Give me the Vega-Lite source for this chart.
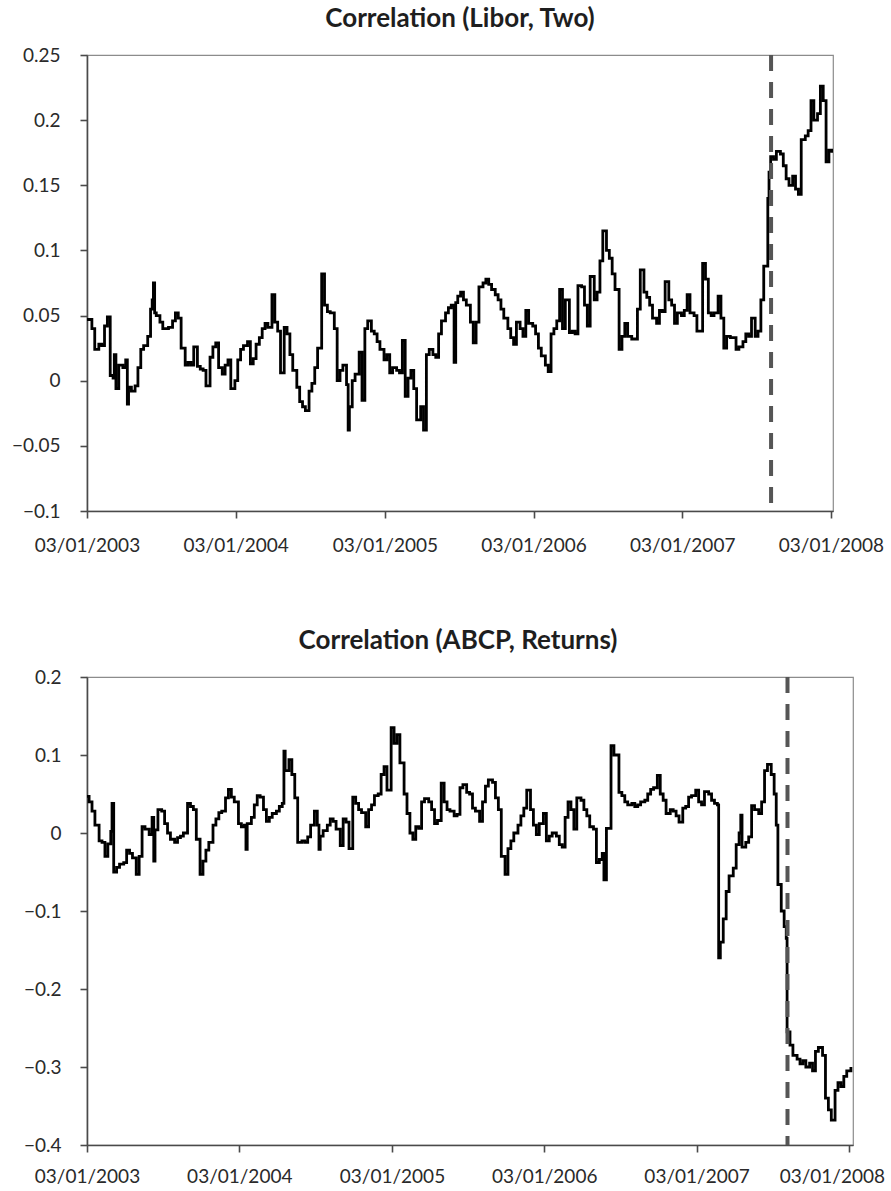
{
  "$schema": "https://vega.github.io/schema/vega-lite/v6.json",
  "background": "white",
  "padding": {"left": 10, "top": 5, "right": 5, "bottom": 3},
  "spacing": 71,
  "config": {
    "font": "Lato",
    "view": {"stroke": "#8c8c8c", "strokeWidth": 1.2},
    "axis": {"grid": false, "title": null, "labelFont": "Lato", "labelFontSize": 19, "labelColor": "#2a2a2a", "domainColor": "#4a4a4a", "domainWidth": 1.6, "tickColor": "#4a4a4a", "tickWidth": 1.6, "tickSize": 7},
    "title": {"font": "Lato", "fontSize": 26, "fontWeight": "bold", "color": "#1e1e1e", "anchor": "middle", "offset": 14}
  },
  "datasets": {
    "event": [{"d": "2007-08-09"}],
    "libor": [
      {"d":"2003-01-03","v":0.047},{"d":"2003-01-08","v":0.047},{"d":"2003-01-15","v":0.040},{"d":"2003-01-22","v":0.024},
      {"d":"2003-02-01","v":0.028},{"d":"2003-02-08","v":0.027},{"d":"2003-02-15","v":0.042},{"d":"2003-02-22","v":0.049},
      {"d":"2003-03-01","v":0.004},{"d":"2003-03-08","v":0.002},{"d":"2003-03-11","v":0.020},{"d":"2003-03-15","v":-0.006},{"d":"2003-03-22","v":0.012},
      {"d":"2003-04-01","v":0.010},{"d":"2003-04-08","v":0.016},{"d":"2003-04-12","v":-0.018},{"d":"2003-04-15","v":-0.005},{"d":"2003-04-22","v":-0.008},
      {"d":"2003-05-01","v":-0.004},{"d":"2003-05-08","v":0.010},{"d":"2003-05-15","v":0.024},{"d":"2003-05-22","v":0.027},
      {"d":"2003-06-01","v":0.034},{"d":"2003-06-08","v":0.055},{"d":"2003-06-12","v":0.062},{"d":"2003-06-15","v":0.075},{"d":"2003-06-18","v":0.052},{"d":"2003-06-22","v":0.050},
      {"d":"2003-07-01","v":0.045},{"d":"2003-07-08","v":0.040},{"d":"2003-07-15","v":0.040},{"d":"2003-07-22","v":0.041},
      {"d":"2003-08-01","v":0.046},{"d":"2003-08-08","v":0.052},{"d":"2003-08-15","v":0.048},{"d":"2003-08-22","v":0.025},
      {"d":"2003-09-01","v":0.012},{"d":"2003-09-08","v":0.014},{"d":"2003-09-15","v":0.012},{"d":"2003-09-22","v":0.026},
      {"d":"2003-10-01","v":0.011},{"d":"2003-10-08","v":0.009},{"d":"2003-10-15","v":0.008},{"d":"2003-10-22","v":-0.004},
      {"d":"2003-11-01","v":0.018},{"d":"2003-11-08","v":0.026},{"d":"2003-11-15","v":0.029},{"d":"2003-11-22","v":0.010},
      {"d":"2003-12-01","v":0.005},{"d":"2003-12-08","v":0.012},{"d":"2003-12-15","v":0.016},{"d":"2003-12-22","v":-0.006},
      {"d":"2004-01-01","v":0.000},{"d":"2004-01-08","v":0.016},{"d":"2004-01-15","v":0.024},{"d":"2004-01-22","v":0.027},
      {"d":"2004-02-01","v":0.030},{"d":"2004-02-08","v":0.013},{"d":"2004-02-15","v":0.017},{"d":"2004-02-22","v":0.028},
      {"d":"2004-03-01","v":0.033},{"d":"2004-03-08","v":0.040},{"d":"2004-03-15","v":0.044},{"d":"2004-03-22","v":0.041},
      {"d":"2004-04-01","v":0.066},{"d":"2004-04-08","v":0.045},{"d":"2004-04-15","v":0.038},{"d":"2004-04-22","v":0.006},
      {"d":"2004-05-01","v":0.041},{"d":"2004-05-08","v":0.036},{"d":"2004-05-15","v":0.020},{"d":"2004-05-22","v":0.008},
      {"d":"2004-06-01","v":-0.005},{"d":"2004-06-08","v":-0.016},{"d":"2004-06-15","v":-0.020},{"d":"2004-06-22","v":-0.023},
      {"d":"2004-07-01","v":-0.008},{"d":"2004-07-08","v":-0.002},{"d":"2004-07-15","v":0.010},{"d":"2004-07-22","v":0.025},
      {"d":"2004-08-01","v":0.082},{"d":"2004-08-08","v":0.058},{"d":"2004-08-15","v":0.053},{"d":"2004-08-22","v":0.052},
      {"d":"2004-09-01","v":0.040},{"d":"2004-09-08","v":0.000},{"d":"2004-09-15","v":0.008},{"d":"2004-09-22","v":0.012},
      {"d":"2004-10-01","v":-0.003},{"d":"2004-10-05","v":-0.038},{"d":"2004-10-08","v":-0.020},{"d":"2004-10-15","v":0.000},{"d":"2004-10-22","v":0.005},
      {"d":"2004-11-01","v":0.022},{"d":"2004-11-08","v":-0.015},{"d":"2004-11-15","v":0.040},{"d":"2004-11-22","v":0.046},
      {"d":"2004-12-01","v":0.038},{"d":"2004-12-08","v":0.036},{"d":"2004-12-15","v":0.030},{"d":"2004-12-22","v":0.024},
      {"d":"2005-01-01","v":0.016},{"d":"2005-01-08","v":0.020},{"d":"2005-01-15","v":0.006},{"d":"2005-01-22","v":0.010},
      {"d":"2005-02-01","v":0.008},{"d":"2005-02-08","v":0.006},{"d":"2005-02-15","v":0.031},{"d":"2005-02-22","v":-0.012},
      {"d":"2005-03-01","v":0.002},{"d":"2005-03-08","v":0.008},{"d":"2005-03-15","v":-0.006},{"d":"2005-03-22","v":-0.030},
      {"d":"2005-04-01","v":-0.020},{"d":"2005-04-08","v":-0.038},{"d":"2005-04-15","v":0.020},{"d":"2005-04-22","v":0.024},
      {"d":"2005-05-01","v":0.020},{"d":"2005-05-08","v":0.018},{"d":"2005-05-15","v":0.036},{"d":"2005-05-22","v":0.046},
      {"d":"2005-06-01","v":0.052},{"d":"2005-06-08","v":0.056},{"d":"2005-06-15","v":0.058},{"d":"2005-06-22","v":0.014},{"d":"2005-06-26","v":0.060},
      {"d":"2005-07-01","v":0.065},{"d":"2005-07-08","v":0.068},{"d":"2005-07-15","v":0.062},{"d":"2005-07-22","v":0.058},
      {"d":"2005-08-01","v":0.045},{"d":"2005-08-08","v":0.029},{"d":"2005-08-15","v":0.045},{"d":"2005-08-22","v":0.072},
      {"d":"2005-09-01","v":0.075},{"d":"2005-09-08","v":0.078},{"d":"2005-09-15","v":0.074},{"d":"2005-09-22","v":0.070},
      {"d":"2005-10-01","v":0.066},{"d":"2005-10-08","v":0.062},{"d":"2005-10-15","v":0.055},{"d":"2005-10-22","v":0.048},
      {"d":"2005-11-01","v":0.040},{"d":"2005-11-08","v":0.033},{"d":"2005-11-15","v":0.028},{"d":"2005-11-22","v":0.045},
      {"d":"2005-12-01","v":0.040},{"d":"2005-12-08","v":0.034},{"d":"2005-12-15","v":0.054},{"d":"2005-12-22","v":0.044},
      {"d":"2006-01-01","v":0.042},{"d":"2006-01-08","v":0.036},{"d":"2006-01-15","v":0.025},{"d":"2006-01-22","v":0.019},
      {"d":"2006-02-01","v":0.012},{"d":"2006-02-08","v":0.007},{"d":"2006-02-15","v":0.036},{"d":"2006-02-22","v":0.040},
      {"d":"2006-03-01","v":0.046},{"d":"2006-03-08","v":0.070},{"d":"2006-03-15","v":0.040},{"d":"2006-03-22","v":0.062},
      {"d":"2006-04-01","v":0.037},{"d":"2006-04-08","v":0.038},{"d":"2006-04-15","v":0.036},{"d":"2006-04-22","v":0.073},
      {"d":"2006-05-01","v":0.072},{"d":"2006-05-08","v":0.058},{"d":"2006-05-15","v":0.042},{"d":"2006-05-22","v":0.080},
      {"d":"2006-06-01","v":0.062},{"d":"2006-06-08","v":0.068},{"d":"2006-06-15","v":0.092},{"d":"2006-06-22","v":0.115},
      {"d":"2006-07-01","v":0.100},{"d":"2006-07-08","v":0.094},{"d":"2006-07-15","v":0.082},{"d":"2006-07-22","v":0.070},
      {"d":"2006-08-01","v":0.024},{"d":"2006-08-08","v":0.034},{"d":"2006-08-15","v":0.044},{"d":"2006-08-22","v":0.034},
      {"d":"2006-09-01","v":0.032},{"d":"2006-09-08","v":0.032},{"d":"2006-09-15","v":0.055},{"d":"2006-09-22","v":0.085},
      {"d":"2006-10-01","v":0.068},{"d":"2006-10-08","v":0.064},{"d":"2006-10-15","v":0.058},{"d":"2006-10-22","v":0.048},
      {"d":"2006-11-01","v":0.044},{"d":"2006-11-08","v":0.054},{"d":"2006-11-15","v":0.053},{"d":"2006-11-22","v":0.076},
      {"d":"2006-12-01","v":0.062},{"d":"2006-12-08","v":0.058},{"d":"2006-12-15","v":0.044},{"d":"2006-12-22","v":0.052},
      {"d":"2007-01-01","v":0.050},{"d":"2007-01-08","v":0.054},{"d":"2007-01-15","v":0.066},{"d":"2007-01-22","v":0.052},
      {"d":"2007-02-01","v":0.050},{"d":"2007-02-08","v":0.038},{"d":"2007-02-15","v":0.038},{"d":"2007-02-22","v":0.090},
      {"d":"2007-03-01","v":0.078},{"d":"2007-03-08","v":0.052},{"d":"2007-03-15","v":0.050},{"d":"2007-03-22","v":0.052},
      {"d":"2007-04-01","v":0.065},{"d":"2007-04-08","v":0.048},{"d":"2007-04-15","v":0.025},{"d":"2007-04-22","v":0.034},
      {"d":"2007-05-01","v":0.033},{"d":"2007-05-08","v":0.033},{"d":"2007-05-15","v":0.024},{"d":"2007-05-22","v":0.026},
      {"d":"2007-06-01","v":0.030},{"d":"2007-06-08","v":0.036},{"d":"2007-06-15","v":0.034},{"d":"2007-06-22","v":0.048},
      {"d":"2007-07-01","v":0.034},{"d":"2007-07-08","v":0.038},{"d":"2007-07-15","v":0.062},{"d":"2007-07-22","v":0.088},
      {"d":"2007-08-01","v":0.140},{"d":"2007-08-04","v":0.160},{"d":"2007-08-08","v":0.172},{"d":"2007-08-15","v":0.170},{"d":"2007-08-22","v":0.176},
      {"d":"2007-09-01","v":0.174},{"d":"2007-09-08","v":0.165},{"d":"2007-09-15","v":0.155},{"d":"2007-09-22","v":0.150},
      {"d":"2007-10-01","v":0.157},{"d":"2007-10-08","v":0.147},{"d":"2007-10-15","v":0.143},{"d":"2007-10-22","v":0.185},
      {"d":"2007-11-01","v":0.188},{"d":"2007-11-08","v":0.192},{"d":"2007-11-15","v":0.215},{"d":"2007-11-22","v":0.200},
      {"d":"2007-12-01","v":0.205},{"d":"2007-12-08","v":0.226},{"d":"2007-12-15","v":0.215},{"d":"2007-12-22","v":0.168},
      {"d":"2007-12-29","v":0.177},{"d":"2008-01-05","v":0.175}
    ],
    "abcp": [
      {"d":"2003-01-03","v":0.047},{"d":"2003-01-08","v":0.040},{"d":"2003-01-15","v":0.028},{"d":"2003-01-22","v":0.010},
      {"d":"2003-02-01","v":-0.010},{"d":"2003-02-08","v":-0.012},{"d":"2003-02-15","v":-0.030},{"d":"2003-02-22","v":-0.014},
      {"d":"2003-03-01","v":0.002},{"d":"2003-03-04","v":0.038},{"d":"2003-03-08","v":-0.050},{"d":"2003-03-15","v":-0.044},{"d":"2003-03-22","v":-0.040},
      {"d":"2003-04-01","v":-0.038},{"d":"2003-04-08","v":-0.022},{"d":"2003-04-15","v":-0.026},{"d":"2003-04-22","v":-0.032},
      {"d":"2003-05-01","v":-0.053},{"d":"2003-05-08","v":-0.030},{"d":"2003-05-15","v":0.008},{"d":"2003-05-22","v":0.005},
      {"d":"2003-06-01","v":-0.002},{"d":"2003-06-08","v":0.020},{"d":"2003-06-12","v":-0.036},{"d":"2003-06-15","v":0.004},{"d":"2003-06-22","v":0.030},
      {"d":"2003-07-01","v":0.028},{"d":"2003-07-08","v":0.012},{"d":"2003-07-15","v":0.000},{"d":"2003-07-22","v":-0.008},
      {"d":"2003-08-01","v":-0.012},{"d":"2003-08-08","v":-0.006},{"d":"2003-08-15","v":-0.004},{"d":"2003-08-22","v":0.000},
      {"d":"2003-09-01","v":0.038},{"d":"2003-09-08","v":0.034},{"d":"2003-09-15","v":0.030},{"d":"2003-09-22","v":-0.008},
      {"d":"2003-10-01","v":-0.053},{"d":"2003-10-08","v":-0.036},{"d":"2003-10-15","v":-0.022},{"d":"2003-10-22","v":-0.012},
      {"d":"2003-11-01","v":0.010},{"d":"2003-11-08","v":0.018},{"d":"2003-11-15","v":0.026},{"d":"2003-11-22","v":0.028},
      {"d":"2003-12-01","v":0.045},{"d":"2003-12-08","v":0.056},{"d":"2003-12-15","v":0.046},{"d":"2003-12-22","v":0.040},
      {"d":"2004-01-01","v":0.012},{"d":"2004-01-08","v":0.008},{"d":"2004-01-15","v":0.010},{"d":"2004-01-19","v":-0.021},{"d":"2004-01-22","v":0.012},
      {"d":"2004-02-01","v":0.020},{"d":"2004-02-08","v":0.036},{"d":"2004-02-15","v":0.048},{"d":"2004-02-22","v":0.046},
      {"d":"2004-03-01","v":0.030},{"d":"2004-03-08","v":0.015},{"d":"2004-03-15","v":0.020},{"d":"2004-03-22","v":0.025},
      {"d":"2004-04-01","v":0.028},{"d":"2004-04-08","v":0.034},{"d":"2004-04-15","v":0.038},{"d":"2004-04-19","v":0.105},{"d":"2004-04-22","v":0.080},
      {"d":"2004-05-01","v":0.094},{"d":"2004-05-08","v":0.075},{"d":"2004-05-15","v":0.045},{"d":"2004-05-22","v":-0.012},
      {"d":"2004-06-01","v":-0.010},{"d":"2004-06-08","v":-0.012},{"d":"2004-06-15","v":-0.005},{"d":"2004-06-22","v":0.010},
      {"d":"2004-07-01","v":0.028},{"d":"2004-07-08","v":0.010},{"d":"2004-07-12","v":-0.021},{"d":"2004-07-15","v":-0.004},{"d":"2004-07-22","v":0.003},
      {"d":"2004-08-01","v":0.010},{"d":"2004-08-08","v":0.018},{"d":"2004-08-15","v":0.015},{"d":"2004-08-22","v":0.005},
      {"d":"2004-09-01","v":-0.016},{"d":"2004-09-08","v":0.018},{"d":"2004-09-15","v":0.014},{"d":"2004-09-22","v":-0.020},
      {"d":"2004-10-01","v":0.046},{"d":"2004-10-08","v":0.038},{"d":"2004-10-15","v":0.030},{"d":"2004-10-22","v":0.026},
      {"d":"2004-11-01","v":0.008},{"d":"2004-11-08","v":0.030},{"d":"2004-11-15","v":0.036},{"d":"2004-11-22","v":0.048},
      {"d":"2004-12-01","v":0.050},{"d":"2004-12-08","v":0.075},{"d":"2004-12-15","v":0.085},{"d":"2004-12-22","v":0.055},
      {"d":"2005-01-01","v":0.135},{"d":"2005-01-08","v":0.115},{"d":"2005-01-15","v":0.126},{"d":"2005-01-22","v":0.090},
      {"d":"2005-02-01","v":0.050},{"d":"2005-02-08","v":0.025},{"d":"2005-02-15","v":0.000},{"d":"2005-02-22","v":-0.008},
      {"d":"2005-03-01","v":0.008},{"d":"2005-03-08","v":0.006},{"d":"2005-03-15","v":0.040},{"d":"2005-03-22","v":0.044},
      {"d":"2005-04-01","v":0.040},{"d":"2005-04-08","v":0.030},{"d":"2005-04-15","v":0.012},{"d":"2005-04-22","v":0.016},
      {"d":"2005-05-01","v":0.064},{"d":"2005-05-08","v":0.040},{"d":"2005-05-15","v":0.030},{"d":"2005-05-22","v":0.028},
      {"d":"2005-06-01","v":0.022},{"d":"2005-06-08","v":0.024},{"d":"2005-06-15","v":0.058},{"d":"2005-06-22","v":0.062},
      {"d":"2005-07-01","v":0.052},{"d":"2005-07-08","v":0.050},{"d":"2005-07-15","v":0.032},{"d":"2005-07-22","v":0.028},
      {"d":"2005-08-01","v":0.015},{"d":"2005-08-08","v":0.040},{"d":"2005-08-15","v":0.060},{"d":"2005-08-22","v":0.068},
      {"d":"2005-09-01","v":0.065},{"d":"2005-09-08","v":0.045},{"d":"2005-09-15","v":0.030},{"d":"2005-09-22","v":-0.030},
      {"d":"2005-10-01","v":-0.053},{"d":"2005-10-08","v":-0.020},{"d":"2005-10-15","v":-0.010},{"d":"2005-10-22","v":0.000},
      {"d":"2005-11-01","v":0.010},{"d":"2005-11-08","v":0.022},{"d":"2005-11-15","v":0.032},{"d":"2005-11-22","v":0.055},
      {"d":"2005-12-01","v":0.030},{"d":"2005-12-08","v":0.010},{"d":"2005-12-15","v":-0.002},{"d":"2005-12-22","v":0.012},
      {"d":"2006-01-01","v":0.025},{"d":"2006-01-08","v":-0.010},{"d":"2006-01-15","v":-0.004},{"d":"2006-01-22","v":0.000},
      {"d":"2006-02-01","v":-0.004},{"d":"2006-02-08","v":-0.015},{"d":"2006-02-15","v":-0.018},{"d":"2006-02-22","v":0.020},
      {"d":"2006-03-01","v":0.040},{"d":"2006-03-08","v":0.030},{"d":"2006-03-15","v":0.005},{"d":"2006-03-22","v":0.045},
      {"d":"2006-04-01","v":0.042},{"d":"2006-04-08","v":0.030},{"d":"2006-04-15","v":0.022},{"d":"2006-04-22","v":0.008},
      {"d":"2006-05-01","v":0.005},{"d":"2006-05-08","v":-0.038},{"d":"2006-05-15","v":-0.034},{"d":"2006-05-22","v":-0.026},{"d":"2006-05-26","v":-0.060},
      {"d":"2006-06-01","v":0.006},{"d":"2006-06-12","v":0.112},{"d":"2006-06-19","v":0.100},
      {"d":"2006-07-01","v":0.052},{"d":"2006-07-08","v":0.048},{"d":"2006-07-15","v":0.040},{"d":"2006-07-22","v":0.036},
      {"d":"2006-08-01","v":0.038},{"d":"2006-08-08","v":0.034},{"d":"2006-08-15","v":0.036},{"d":"2006-08-22","v":0.040},
      {"d":"2006-09-01","v":0.042},{"d":"2006-09-08","v":0.050},{"d":"2006-09-15","v":0.056},{"d":"2006-09-22","v":0.058},
      {"d":"2006-10-01","v":0.074},{"d":"2006-10-08","v":0.050},{"d":"2006-10-15","v":0.042},{"d":"2006-10-22","v":0.025},
      {"d":"2006-11-01","v":0.030},{"d":"2006-11-08","v":0.028},{"d":"2006-11-15","v":0.022},{"d":"2006-11-22","v":0.014},
      {"d":"2006-12-01","v":0.032},{"d":"2006-12-08","v":0.034},{"d":"2006-12-15","v":0.046},{"d":"2006-12-22","v":0.048},
      {"d":"2007-01-01","v":0.055},{"d":"2007-01-08","v":0.040},{"d":"2007-01-15","v":0.036},{"d":"2007-01-22","v":0.053},
      {"d":"2007-02-01","v":0.050},{"d":"2007-02-08","v":0.042},{"d":"2007-02-15","v":0.038},{"d":"2007-02-22","v":0.036},{"d":"2007-02-25","v":-0.160},
      {"d":"2007-03-01","v":-0.140},{"d":"2007-03-08","v":-0.110},{"d":"2007-03-15","v":-0.075},{"d":"2007-03-22","v":-0.055},
      {"d":"2007-04-01","v":-0.045},{"d":"2007-04-08","v":-0.015},{"d":"2007-04-15","v":0.000},{"d":"2007-04-19","v":0.023},{"d":"2007-04-22","v":-0.018},
      {"d":"2007-05-01","v":-0.012},{"d":"2007-05-08","v":-0.005},{"d":"2007-05-15","v":0.035},{"d":"2007-05-22","v":0.030},
      {"d":"2007-06-01","v":0.025},{"d":"2007-06-08","v":0.040},{"d":"2007-06-15","v":0.080},{"d":"2007-06-22","v":0.088},
      {"d":"2007-07-01","v":0.075},{"d":"2007-07-08","v":0.050},{"d":"2007-07-13","v":0.010},{"d":"2007-07-17","v":-0.066},{"d":"2007-07-25","v":-0.100},
      {"d":"2007-08-01","v":-0.120},{"d":"2007-08-06","v":-0.135},{"d":"2007-08-08","v":-0.255},{"d":"2007-08-15","v":-0.272},{"d":"2007-08-22","v":-0.285},
      {"d":"2007-09-01","v":-0.290},{"d":"2007-09-08","v":-0.296},{"d":"2007-09-15","v":-0.292},{"d":"2007-09-22","v":-0.300},
      {"d":"2007-10-01","v":-0.295},{"d":"2007-10-08","v":-0.305},{"d":"2007-10-15","v":-0.280},{"d":"2007-10-22","v":-0.275},
      {"d":"2007-11-01","v":-0.285},{"d":"2007-11-08","v":-0.340},{"d":"2007-11-15","v":-0.355},{"d":"2007-11-22","v":-0.368},
      {"d":"2007-12-01","v":-0.330},{"d":"2007-12-08","v":-0.320},{"d":"2007-12-15","v":-0.325},{"d":"2007-12-22","v":-0.312},
      {"d":"2007-12-29","v":-0.305},{"d":"2008-01-08","v":-0.300}
    ]
  },
  "vconcat": [
    {
      "title": "Correlation (Libor, Two)",
      "width": 746,
      "height": 456,
      "layer": [
        {
          "data": {"name": "libor"},
          "mark": {"type": "line", "interpolate": "step-after", "color": "#000000", "strokeWidth": 2.8, "clip": true},
          "encoding": {
            "x": {"field": "d", "type": "temporal",
              "scale": {"type": "utc", "nice": false, "domain": [{"year": 2003, "month": 1, "date": 3, "utc": true}, {"year": 2008, "month": 1, "date": 8, "utc": true}]},
              "axis": {"format": "%d/%m/%Y", "labelPadding": 18, "labelOverlap": false, "labelFlush": false,
                "values": [{"year": 2003, "month": 1, "date": 3, "utc": true}, {"year": 2004, "month": 1, "date": 3, "utc": true}, {"year": 2005, "month": 1, "date": 3, "utc": true}, {"year": 2006, "month": 1, "date": 3, "utc": true}, {"year": 2007, "month": 1, "date": 3, "utc": true}, {"year": 2008, "month": 1, "date": 3, "utc": true}]}},
            "y": {"field": "v", "type": "quantitative",
              "scale": {"domain": [-0.1, 0.25], "nice": false, "zero": false},
              "axis": {"values": [-0.1, -0.05, 0, 0.05, 0.1, 0.15, 0.2, 0.25], "format": "~g", "labelPadding": 20}}
          }
        },
        {
          "data": {"name": "event"},
          "mark": {"type": "rule", "color": "#555555", "strokeWidth": 4, "strokeDash": [16, 11]},
          "encoding": {"x": {"field": "d", "type": "temporal"}}
        }
      ]
    },
    {
      "title": {"text": "Correlation (ABCP, Returns)", "dx": -12},
      "width": 766,
      "height": 468,
      "layer": [
        {
          "data": {"name": "abcp"},
          "mark": {"type": "line", "interpolate": "step-after", "color": "#000000", "strokeWidth": 2.8, "clip": true},
          "encoding": {
            "x": {"field": "d", "type": "temporal",
              "scale": {"type": "utc", "nice": false, "domain": [{"year": 2003, "month": 1, "date": 3, "utc": true}, {"year": 2008, "month": 1, "date": 13, "utc": true}]},
              "axis": {"format": "%d/%m/%Y", "labelPadding": 15, "labelOverlap": false, "labelFlush": false,
                "labelOffset": {"condition": {"test": "datum.value > 1190000000000", "value": -17}, "value": 0},
                "values": [{"year": 2003, "month": 1, "date": 3, "utc": true}, {"year": 2004, "month": 1, "date": 3, "utc": true}, {"year": 2005, "month": 1, "date": 3, "utc": true}, {"year": 2006, "month": 1, "date": 3, "utc": true}, {"year": 2007, "month": 1, "date": 3, "utc": true}, {"year": 2008, "month": 1, "date": 3, "utc": true}]}},
            "y": {"field": "v", "type": "quantitative",
              "scale": {"domain": [-0.4, 0.2], "nice": false, "zero": false},
              "axis": {"values": [-0.4, -0.3, -0.2, -0.1, 0, 0.1, 0.2], "format": "~g", "labelPadding": 19}}
          }
        },
        {
          "data": {"name": "event"},
          "mark": {"type": "rule", "color": "#555555", "strokeWidth": 4, "strokeDash": [16, 11]},
          "encoding": {"x": {"field": "d", "type": "temporal"}}
        }
      ]
    }
  ]
}
